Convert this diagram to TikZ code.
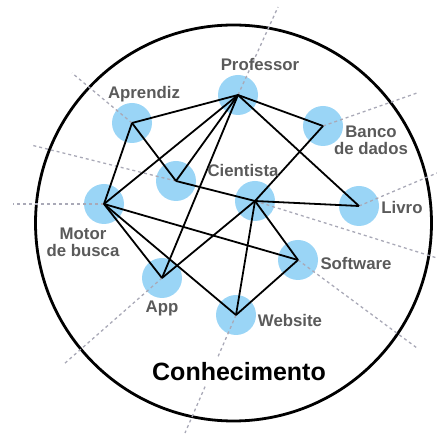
\documentclass[tikz,border=0pt]{standalone}
\usepackage{fontspec}
\setmainfont{Liberation Sans}
\definecolor{dotblue}{HTML}{9AD5F6}
\definecolor{labgrey}{HTML}{5A5A5A}
\definecolor{raygrey}{HTML}{A9A9B7}
\tikzset{
	dot/.style={circle, fill=dotblue, minimum size=40pt, inner sep=0pt},
	lab/.style={text=labgrey, font=\fontsize{16.8}{16.7}\selectfont\bfseries, align=center, inner sep=0pt, anchor=base},
	ray/.style={raygrey, line width=1.3pt, dash pattern=on 3pt off 3pt},
	link/.style={line width=1.8pt, line join=round}
}

\begin{document}
\begin{tikzpicture}[x=1pt, y=-1pt]
			%%%%% START %%%%%
			
			\useasboundingbox (0, 0) rectangle (437, 435);
			
			\draw[line width=2.8pt] (233.5, 223) circle (198);
			
			\node[dot] (prof) at (238, 95) {};
			\node[dot] (apr) at (132, 123) {};
			\node[dot] (banco) at (323, 126) {};
			\node[dot] (anon) at (176, 181) {};
			\node[dot] (cient) at (255, 201) {};
			\node[dot] (livro) at (359, 206) {};
			\node[dot] (motor) at (104, 204) {};
			\node[dot] (soft) at (298, 260) {};
			\node[dot] (app) at (162, 278) {};
			\node[dot] (web) at (236, 315) {};
			
			\coordinate (profout) at (278, 7);
			\coordinate (aprout) at (72, 73);
			\coordinate (anonout) at (31, 145);
			\coordinate (motorout) at (13, 204);
			\coordinate (bancoout) at (417, 93);
			\coordinate (livroout) at (437, 173);
			\coordinate (cientout) at (437, 258);
			\coordinate (softout) at (417, 348);
			\coordinate (appout) at (64, 364);
			\coordinate (webout) at (185, 433);
			
			\draw[ray] (prof.center) -- (profout);
			\draw[ray] (apr.center) -- (aprout);
			\draw[ray] (anon.center) -- (anonout);
			\draw[ray] (motor.center) -- (motorout);
			\draw[ray] (banco.center) -- (bancoout);
			\draw[ray] (livro.center) -- (livroout);
			\draw[ray] (cient.center) -- (cientout);
			\draw[ray] (soft.center) -- (softout);
			\draw[ray] (app.center) -- (appout);
			\draw[ray] (web.center) -- (webout);
			
			\draw[link] (prof.center) -- (apr.center);
			\draw[link] (prof.center) -- (banco.center);
			\draw[link] (prof.center) -- (livro.center);
			\draw[link] (prof.center) -- (motor.center);
			\draw[link] (prof.center) -- (anon.center);
			\draw[link] (prof.center) -- (app.center);
			\draw[link] (apr.center) -- (motor.center);
			\draw[link] (apr.center) -- (anon.center);
			\draw[link] (anon.center) -- (cient.center);
			\draw[link] (banco.center) -- (cient.center);
			\draw[link] (cient.center) -- (livro.center);
			\draw[link] (cient.center) -- (app.center);
			\draw[link] (cient.center) -- (web.center);
			\draw[link] (cient.center) -- (soft.center);
			\draw[link] (motor.center) -- (soft.center);
			\draw[link] (motor.center) -- (app.center);
			\draw[link] (motor.center) -- (web.center);
			\draw[link] (soft.center) -- (web.center);
			
			\node[lab] (proflab) at (260, 70.7) {Professor};
			\node[lab] (aprlab) at (144, 99) {Aprendiz};
			\node[lab] (bancolab) at (371, 154.4) {Banco\\de dados};
			\node[lab] (cientlab) at (243, 176.7) {Cientista};
			\node[lab] (livrolab) at (402, 213.3) {Livro};
			\node[lab] (motorlab) at (83, 256.7) {Motor\\de busca};
			\node[lab] (softlab) at (356, 269.3) {Software};
			\node[lab] (applab) at (162, 312.5) {App};
			\node[lab] (weblab) at (290, 326.7) {Website};
			
			\node[fill=white, inner sep=5pt, anchor=base, font=\fontsize{25}{25}\selectfont\bfseries] (titulo) at (239, 381) {Conhecimento};
			
			%%%%% END %%%%%
		\end{tikzpicture}
\end{document}
